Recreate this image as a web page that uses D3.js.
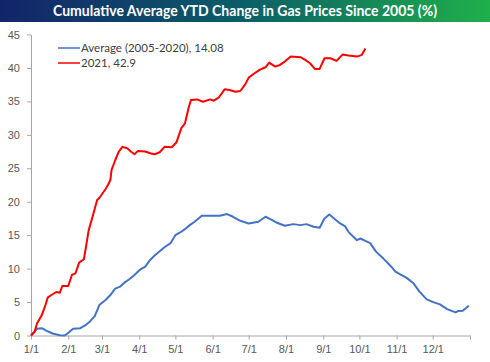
<!DOCTYPE html>
<html>
<head>
<meta charset="utf-8">
<script src="https://cdn.jsdelivr.net/npm/d3@7"></script>
<style>
  body { margin: 0; background: #fff; }
  svg { display: block; font-family: Lato, "Open Sans", sans-serif; }
  .axis path, .axis line { stroke: #a6a6a6; }
  .axis text { fill: #595959; font-size: 11px; }
</style>
</head>
<body>
<svg id="chart" width="490" height="362"></svg>
<script>
const title = 'Cumulative Average YTD Change in Gas Prices Since 2005 (%)';
const yTicks = [0, 5, 10, 15, 20, 25, 30, 35, 40, 45];
const monthLabels = ['1/1', '2/1', '3/1', '4/1', '5/1', '6/1', '7/1', '8/1', '9/1', '10/1', '11/1', '12/1'];

// Average 2005-2020: day of year (0 = Jan 1) and cumulative % change
const avgDays = [0, 5, 9, 13, 18, 24, 28, 31, 35, 41, 45, 49, 53, 57, 62, 66, 70, 74, 78, 82, 86, 91,
  95, 99, 103, 107, 111, 116, 120, 124, 128, 132, 136, 142, 149, 157, 163, 168, 174, 181, 189, 195,
  199, 204, 211, 218, 224, 229, 235, 240, 244, 248, 251, 257, 261, 264, 268, 271, 274, 278, 282, 287,
  293, 299, 303, 307, 312, 318, 323, 329, 335, 340, 346, 353, 355, 359, 364];
const avgValues = [0, 1.0, 1.1, 0.7, 0.3, 0.05, 0, 0.4, 1.0, 1.1, 1.5, 2.1, 2.9, 4.6, 5.3, 6.05, 7.0, 7.3,
  7.95, 8.45, 9.05, 9.9, 10.3, 11.3, 12.0, 12.6, 13.2, 13.8, 15.0, 15.4, 15.9, 16.5, 17.0, 17.9, 17.9,
  17.9, 18.15, 17.75, 17.15, 16.75, 17.0, 17.75, 17.4, 16.9, 16.4, 16.65, 16.5, 16.65, 16.25, 16.1, 17.5,
  18.1, 17.65, 16.75, 16.35, 15.5, 14.75, 14.25, 14.5, 14.15, 13.8, 12.5, 11.5, 10.4, 9.55, 9.15, 8.65,
  7.8, 6.55, 5.4, 4.95, 4.65, 3.95, 3.45, 3.65, 3.7, 4.45];

// 2021 year to date
const ytdDays = [0, 3, 5, 9, 12, 14, 17, 21, 24, 26, 31, 34, 37, 40, 44, 48, 50, 55, 57, 62, 64, 66, 67,
  70, 73, 76, 80, 83, 86, 89, 95, 99, 103, 107, 111, 117, 121, 125, 128, 131, 133, 138, 143, 149, 152,
  156, 161, 165, 170, 174, 178, 181, 185, 190, 195, 198, 203, 207, 211, 216, 224, 228, 232, 236, 240,
  244, 249, 254, 259, 264, 271, 275, 278];
const ytdValues = [0, 0.55, 1.8, 3.05, 4.55, 5.7, 6.05, 6.5, 6.4, 7.4, 7.4, 9.05, 9.3, 10.9, 11.4, 15.75,
  17.0, 20.25, 20.6, 21.9, 22.5, 23.25, 24.75, 26.2, 27.5, 28.2, 28.0, 27.5, 27.1, 27.6, 27.5, 27.25,
  27.1, 27.4, 28.2, 28.15, 28.9, 31.0, 31.7, 34.0, 35.2, 35.3, 34.95, 35.3, 35.1, 35.55, 36.8, 36.7,
  36.45, 36.55, 37.5, 38.55, 39.1, 39.7, 40.1, 40.8, 40.2, 40.45, 40.95, 41.7, 41.6, 41.2, 40.7, 39.85,
  39.85, 41.45, 41.45, 41.05, 42.0, 41.85, 41.7, 41.95, 42.9];

const seriesNames = ['Average (2005-2020), 14.08', '2021, 42.9'];
const seriesColors = ['#4472C4', '#FF0000'];

const svg = d3.select('#chart');
const start = new Date(2021, 0, 1);
const toDate = d => d3.timeDay.offset(start, d);

const x = d3.scaleTime()
  .domain([start, new Date(2022, 0, 1)])
  .range([31, 470]);
const y = d3.scaleLinear()
  .domain([0, 45])
  .range([335.5, 34.5]);

// Title banner
const grad = svg.append('defs').append('linearGradient')
  .attr('id', 'banner')
  .attr('x1', '0%').attr('x2', '100%');
grad.append('stop').attr('offset', '0%').attr('stop-color', '#13246a');
grad.append('stop').attr('offset', '50%').attr('stop-color', '#0b5f68');
grad.append('stop').attr('offset', '100%').attr('stop-color', '#1fb04a');
svg.append('rect')
  .attr('x', 0).attr('y', 0)
  .attr('width', 490).attr('height', 22)
  .attr('fill', 'url(#banner)');
svg.append('text')
  .attr('x', 245).attr('y', 16)
  .attr('text-anchor', 'middle')
  .attr('fill', '#fff')
  .attr('font-size', 15)
  .attr('font-weight', 'bold')
  .attr('textLength', 384)
  .attr('lengthAdjust', 'spacingAndGlyphs')
  .text(title);

// Axes
const monthTicks = d3.range(12).map(m => new Date(2021, m, 1));
svg.append('g')
  .attr('class', 'axis')
  .attr('transform', `translate(0,${y(0)})`)
  .call(d3.axisBottom(x)
    .tickValues(monthTicks.concat([new Date(2022, 0, 1)]))
    .tickSize(4)
    .tickPadding(6)
    .tickSizeOuter(0)
    .tickFormat((d, i) => monthLabels[i] || ''));

svg.append('g')
  .attr('class', 'axis')
  .attr('transform', `translate(${x.range()[0]},0)`)
  .call(d3.axisLeft(y)
    .tickValues(yTicks)
    .tickSize(4)
    .tickPadding(7)
    .tickSizeOuter(0));

// Lines
const line = d3.line()
  .x(d => x(toDate(d[0])))
  .y(d => y(d[1]));

const series = [
  d3.zip(avgDays, avgValues),
  d3.zip(ytdDays, ytdValues)
];

svg.append('g').selectAll('path')
  .data(series)
  .join('path')
  .attr('d', line)
  .attr('fill', 'none')
  .attr('stroke', (d, i) => seriesColors[i])
  .attr('stroke-width', 2)
  .attr('stroke-linejoin', 'round');

// Legend
const legend = svg.append('g').selectAll('g')
  .data(seriesNames)
  .join('g')
  .attr('transform', (d, i) => `translate(58,${48 + i * 15})`);
legend.append('line')
  .attr('x1', 0).attr('x2', 22)
  .attr('stroke', (d, i) => seriesColors[i])
  .attr('stroke-width', 1.5);
legend.append('text')
  .attr('x', 23)
  .attr('dy', '0.35em')
  .attr('fill', '#404040')
  .attr('font-size', 11.5)
  .text(d => d);
</script>
</body>
</html>
